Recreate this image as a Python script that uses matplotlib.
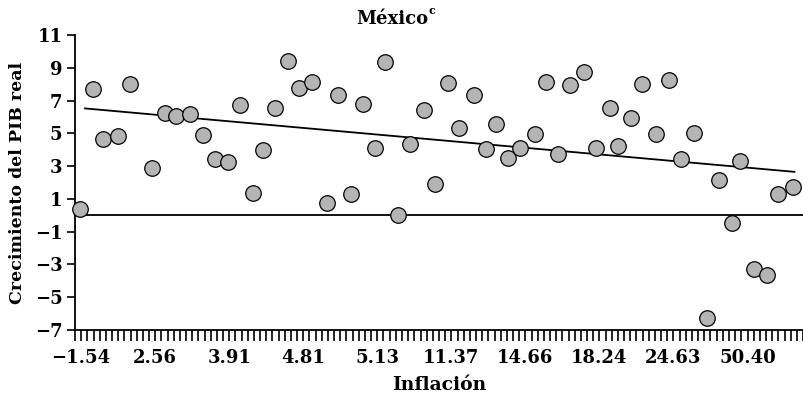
import numpy as np
import matplotlib
matplotlib.use("Agg")
import matplotlib.pyplot as plt

# posición de cada punto sobre el eje de inflación (unidades de categoría) y crecimiento del PIB real
x_pos = [0.41, 1.44, 2.29, 3.46, 4.46, 6.24, 7.32, 8.16, 9.32, 10.35,
         11.32, 12.42, 13.40, 14.45, 15.21, 16.21, 17.26, 18.18, 19.21, 20.40,
         21.31, 22.37, 23.37, 24.34, 25.10, 26.20, 27.15, 28.26, 29.20, 30.23,
         31.12, 32.36, 33.28, 34.15, 35.06, 36.08, 37.25, 38.17, 39.17, 40.14,
         41.28, 42.22, 43.33, 44.03, 45.03, 45.95, 47.08, 48.14, 49.08, 50.16,
         51.19, 52.16, 53.22, 53.91, 55.05, 56.06, 56.95, 58.16]
crecimiento = [0.36, 7.70, 4.65, 4.83, 8.00, 2.90, 6.25, 6.05, 6.21, 4.91,
               3.45, 3.23, 6.70, 1.37, 3.98, 6.55, 9.42, 7.77, 8.13, 0.76,
               7.33, 1.27, 6.78, 4.08, 9.36, 0.00, 4.32, 6.40, 1.92, 8.08,
               5.30, 7.33, 4.05, 5.56, 3.51, 4.12, 4.93, 8.14, 3.75, 7.96,
               8.77, 4.12, 6.55, 4.22, 5.91, 8.00, 4.97, 8.23, 3.45, 4.99,
               -6.29, 2.16, -0.49, 3.32, -3.30, -3.65, 1.27, 1.74]

# recta de tendencia tal como aparece en el gráfico (extremos)
x_tendencia = [0.81, 58.3]
y_tendencia = [6.52, 2.65]

etiquetas_x = ["−1.54", "2.56", "3.91", "4.81", "5.13", "11.37", "14.66", "18.24", "24.63", "50.40"]
pos_etiquetas = [0.5, 6.5, 12.5, 18.5, 24.5, 30.5, 36.5, 42.5, 48.5, 54.5]
n_categorias = 59

plt.rcParams['font.family'] = ['DejaVu Serif']
fig = plt.figure(figsize=(8.04, 4.0), dpi=100)
ax = fig.add_axes([0.0933, 0.175, 0.9055, 0.7375])

ax.axhline(0, color="black", lw=1.3, zorder=1)
ax.plot(x_tendencia, y_tendencia, color="black", lw=1.3, zorder=1)
ax.scatter(x_pos, crecimiento, s=125, color="#b4b4b4", edgecolor="black",
           linewidth=0.9, zorder=3, clip_on=False)

ax.set_xlim(0, n_categorias)
ax.set_ylim(-7, 11)
ax.set_yticks(range(-7, 12, 2))
ax.set_yticklabels([str(v).replace("-", "−") for v in range(-7, 12, 2)])
ax.set_xticks(pos_etiquetas)
ax.set_xticklabels(etiquetas_x)
ax.set_xticks(np.arange(0, n_categorias + 0.01, 0.5), minor=True)

ax.tick_params(axis="x", which="both", direction="out", length=8, width=1.2, labelsize=13, pad=6)
ax.tick_params(axis="y", direction="out", length=6, width=1.2, labelsize=13, pad=3)
for lab in ax.get_xticklabels() + ax.get_yticklabels():
    lab.set_fontweight("bold")

for s in ["top", "right"]:
    ax.spines[s].set_visible(False)
for s in ["left", "bottom"]:
    ax.spines[s].set_linewidth(1.3)

ax.set_xlabel("Inflación", fontsize=13.5, fontweight="bold", labelpad=6)
ax.set_ylabel("Crecimiento del PIB real", fontsize=12.5, fontweight="bold", labelpad=6)
fig.text(0.488, 0.953, "México", ha="center", va="center",
         fontsize=13, fontweight="bold")
fig.text(0.533, 0.975, "c", ha="left", va="center", fontsize=8, fontweight="bold")

fig.savefig("out.png", dpi=100)
